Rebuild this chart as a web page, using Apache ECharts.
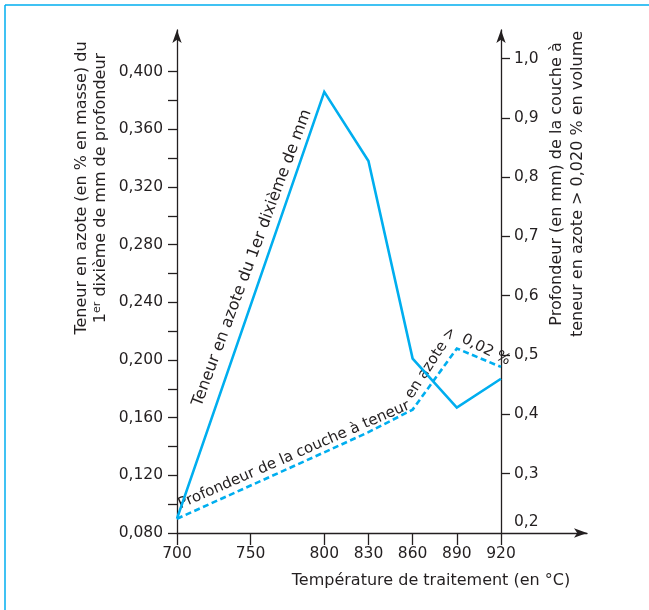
<!DOCTYPE html>
<html><head><meta charset="utf-8">
<script src="https://cdn.jsdelivr.net/npm/echarts@6/dist/echarts.min.js"></script>
<style>html,body{margin:0;padding:0;background:#fff}#c{width:649px;height:610px}</style>
</head><body><div id="c"></div>
<script>
// ---- data ----
const xTickValues = [700, 750, 800, 830, 860, 890, 920];
const nitrogenTemps = [700, 800, 830, 860, 890, 920];
const nitrogenContent = [0.090, 0.386, 0.338, 0.201, 0.167, 0.187];
const depthTemps = [700, 750, 800, 830, 860, 890, 920];
const depthValues = [0.224, 0.280, 0.336, 0.370, 0.408, 0.511, 0.480];
const leftTickValues = [0.08, 0.10, 0.12, 0.14, 0.16, 0.18, 0.20, 0.22, 0.24, 0.26, 0.28, 0.30, 0.32, 0.34, 0.36, 0.38, 0.40];
const leftLabelValues = [0.08, 0.12, 0.16, 0.20, 0.24, 0.28, 0.32, 0.36, 0.40];
const rightTickValues = [0.3, 0.4, 0.5, 0.6, 0.7, 0.8, 0.9, 1.0];
const rightLabelValues = [0.2, 0.3, 0.4, 0.5, 0.6, 0.7, 0.8, 0.9, 1.0];

const FONT = 'DejaVu Sans';
const TXT = '#231f20';
const BLUE = '#00aeef';
const AX = { color: '#231f20', width: 1.3 };

const chart = echarts.init(document.getElementById('c'), null, { renderer: 'canvas' });

function txt(text, x, y, deg, size) {
  return {
    type: 'text', x: x, y: y, rotation: deg * Math.PI / 180, silent: true,
    style: { text: text, fill: TXT, font: size + 'px "' + FONT + '"',
      align: 'center', verticalAlign: 'middle', textAlign: 'center', textVerticalAlign: 'middle' }
  };
}

const option = {
  animation: false,
  backgroundColor: '#fff',
  grid: { left: 177, right: 62, top: 30, bottom: 77, containLabel: false },
  xAxis: {
    type: 'value', min: 700, max: 978.4,
    axisLine: { show: true, onZero: false, symbol: ['none', 'arrow'], symbolSize: [7, 13], lineStyle: AX },
    axisTick: { show: true, customValues: xTickValues, length: 12, lineStyle: AX },
    axisLabel: { customValues: xTickValues, margin: 13, fontSize: 15.5, fontFamily: FONT, color: TXT },
    splitLine: { show: false }
  },
  yAxis: [
    {
      type: 'value', position: 'left', min: 0.08, max: 0.4289,
      axisLine: { show: true, onZero: false, symbol: ['none', 'arrow'], symbolSize: [7, 13], lineStyle: AX },
      axisTick: { show: true, customValues: leftTickValues, length: 9, lineStyle: AX },
      axisLabel: { customValues: leftLabelValues, margin: 14, fontSize: 15.5, fontFamily: FONT, color: TXT,
        formatter: v => v.toFixed(3).replace('.', ',') },
      splitLine: { show: false }
    },
    {
      type: 'value', position: 'right', offset: -86, min: 0.2, max: 1.048,
      axisLine: { show: true, onZero: false, symbol: ['none', 'arrow'], symbolSize: [7, 13], lineStyle: AX },
      axisTick: { show: true, customValues: rightTickValues, length: 9, lineStyle: AX },
      axisLabel: { customValues: rightLabelValues, margin: 13, fontSize: 15.5, fontFamily: FONT, color: TXT,
        formatter: v => Math.abs(v - 0.2) < 1e-9 ? '{lo|0,2}' : v.toFixed(1).replace('.', ','),
        rich: { lo: { fontSize: 15.5, fontFamily: FONT, color: TXT, padding: [0, 0, 22, 0] } } },
      splitLine: { show: false }
    }
  ],
  series: [
    {
      type: 'line', yAxisIndex: 0, symbol: 'none', silent: true,
      data: nitrogenTemps.map((t, i) => [t, nitrogenContent[i]]),
      lineStyle: { color: BLUE, width: 2.6, join: 'miter' }
    },
    {
      type: 'line', yAxisIndex: 1, symbol: 'none', silent: true,
      data: depthTemps.map((t, i) => [t, depthValues[i]]),
      lineStyle: { color: BLUE, width: 2.6, type: [6, 3.5], join: 'miter' }
    }
  ],
  graphic: [
    { type: 'line', silent: true, shape: { x1: 5, y1: 5, x2: 649, y2: 5 }, style: { stroke: BLUE, lineWidth: 1.5 } },
    { type: 'line', silent: true, shape: { x1: 5, y1: 5, x2: 5, y2: 610 }, style: { stroke: BLUE, lineWidth: 1.5 } },
    {
      type: 'text', x: 91, y: 188, rotation: Math.PI / 2, silent: true,
      style: {
        text: '{a|Teneur en azote (en % en masse) du}\n{a|1}{s|er}{a| dixième de mm de profondeur}',
        align: 'center', verticalAlign: 'middle', textAlign: 'center', textVerticalAlign: 'middle',
        rich: {
          a: { fontSize: 16, fontFamily: FONT, fill: TXT, color: TXT, lineHeight: 19 },
          s: { fontSize: 11, fontFamily: FONT, fill: TXT, color: TXT, lineHeight: 19, padding: [0, 0, 7, 0] }
        }
      }
    },
    {
      type: 'text', x: 567, y: 184, rotation: Math.PI / 2, silent: true,
      style: {
        text: 'Profondeur (en mm) de la couche à\nteneur en azote > 0,020 % en volume',
        fill: TXT, font: '16px "' + FONT + '"', lineHeight: 21,
        align: 'center', verticalAlign: 'middle', textAlign: 'center', textVerticalAlign: 'middle'
      }
    },
    txt('Température de traitement (en °C)', 431, 581, 0, 16),
    txt('Teneur en azote du 1er dixième de mm', 252, 258, 69.6, 16),
    txt('Profondeur de la couche à teneur', 294, 455, 23.5, 15),
    txt('en azote >', 431, 363, 57, 15),
    txt('0,02 %', 486, 350, -26.6, 15)
  ]
};
chart.setOption(option);
</script>
</body></html>
